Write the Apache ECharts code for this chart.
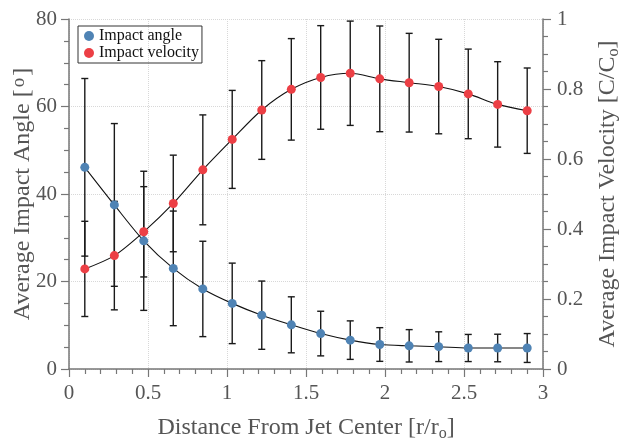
<!DOCTYPE html>
<html>
<head>
<meta charset="utf-8">
<script src="https://cdn.jsdelivr.net/npm/echarts@6/dist/echarts.min.js"></script>
<style>
html, body { margin: 0; padding: 0; background: #fff; }
#main { width: 619px; height: 440px; }
</style>
</head>
<body>
<div id="main"></div>
<script>
// distance from jet center r/ro
var distance = [0.1, 0.287, 0.473, 0.66, 0.847, 1.033, 1.22, 1.407, 1.593, 1.78, 1.967, 2.153, 2.34, 2.527, 2.713, 2.9];
// impact angle (deg) and its spread
var angleMean = [46.1, 37.5, 29.3, 23.0, 18.3, 15.0, 12.3, 10.1, 8.1, 6.6, 5.6, 5.3, 5.1, 4.8, 4.8, 4.8];
var angleErr = [20.3, 18.6, 15.9, 13.1, 10.9, 9.2, 7.8, 6.4, 5.1, 4.4, 3.85, 3.7, 3.4, 3.1, 3.15, 3.3];
// impact velocity C/Co and its spread
var velMean = [0.286, 0.324, 0.392, 0.473, 0.569, 0.656, 0.740, 0.799, 0.833, 0.845, 0.829, 0.818, 0.807, 0.786, 0.756, 0.738];
var velErr = [0.136, 0.155, 0.129, 0.138, 0.157, 0.140, 0.141, 0.145, 0.148, 0.149, 0.151, 0.141, 0.135, 0.128, 0.122, 0.122];

var xTicks = [0, 0.5, 1, 1.5, 2, 2.5, 3];
var angleTicks = [0, 20, 40, 60, 80];
var velTicks = [0, 0.2, 0.4, 0.6, 0.8, 1];

var serif = '"Liberation Serif", "DejaVu Serif", serif';
var axisGray = '#777';
var labelGray = '#555';

function pairs(xv, yv) {
	return xv.map(function(x, i) { return [x, yv[i]]; });
}
function bars(xv, m, e) {
	return xv.map(function(x, i) { return [x, m[i] - e[i], m[i] + e[i]]; });
}

var errorBar = function(params, api) {
	var x = api.value(0);
	var lo = api.coord([x, api.value(1)]);
	var hi = api.coord([x, api.value(2)]);
	var w = 3.5;
	var st = { stroke: '#1a1a1a', lineWidth: 1.4 };
	return {
		type: 'group',
		children: [
			{ type: 'line', shape: { x1: lo[0], y1: lo[1], x2: hi[0], y2: hi[1] }, style: st },
			{ type: 'line', shape: { x1: lo[0] - w, y1: lo[1], x2: lo[0] + w, y2: lo[1] }, style: st },
			{ type: 'line', shape: { x1: hi[0] - w, y1: hi[1], x2: hi[0] + w, y2: hi[1] }, style: st }
		]
	};
};

var option = {
	animation: false,
	backgroundColor: '#fff',
	grid: { left: 69, right: 76, top: 19, bottom: 71, outerBoundsMode: 'none', containLabel: false },
	legend: {
		left: 78,
		top: 26,
		orient: 'vertical',
		itemGap: 1,
		padding: [2, 3, 2, 6],
		borderColor: '#333',
		borderWidth: 1,
		itemWidth: 10,
		itemHeight: 10,
		textStyle: { fontFamily: serif, fontSize: 16, color: '#111' },
		data: [
			{ name: 'Impact angle', icon: 'circle' },
			{ name: 'Impact velocity', icon: 'circle' }
		]
	},
	xAxis: {
		type: 'value',
		min: 0,
		max: 3,
		interval: 0.5,
		name: 'Distance From Jet Center [r/r{sub|o}]',
		nameLocation: 'middle',
		nameGap: 45,
		nameMoveOverlap: false,
		nameTextStyle: {
			fontFamily: serif, fontSize: 24, color: labelGray, verticalAlign: 'top',
			rich: { sub: { fontFamily: serif, fontSize: 16, color: labelGray, verticalAlign: 'top', padding: [12, 0, 0, 0] } }
		},
		axisLine: { lineStyle: { color: axisGray, width: 1.5 } },
		axisTick: { length: 8, lineStyle: { color: axisGray, width: 1.2 } },
		minorTick: { show: true, splitNumber: 5, length: 5, lineStyle: { color: axisGray, width: 1.2 } },
		splitLine: { show: true, lineStyle: { color: '#d8d8d8', type: 'dotted' } },
		axisLabel: {
			margin: 14, fontFamily: serif, fontSize: 21, color: labelGray,
			formatter: function(v) { return xTicks.indexOf(v) >= 0 ? String(v) : ''; }
		}
	},
	yAxis: [{
		type: 'value',
		min: angleTicks[0],
		max: angleTicks[angleTicks.length - 1],
		interval: 20,
		name: 'Average Impact Angle [{sup|o}]',
		nameLocation: 'middle',
		nameGap: 34,
		nameRotate: 90,
		nameMoveOverlap: false,
		nameTextStyle: {
			fontFamily: serif, fontSize: 24, color: labelGray, verticalAlign: 'bottom',
			rich: { sup: { fontFamily: serif, fontSize: 19, color: labelGray, padding: [0, 2, 6, 2] } }
		},
		axisLine: { show: true, lineStyle: { color: axisGray, width: 1.5 } },
		axisTick: { show: true, length: 8, lineStyle: { color: axisGray, width: 1.2 } },
		minorTick: { show: true, splitNumber: 4, length: 5, lineStyle: { color: axisGray, width: 1.2 } },
		splitLine: { show: true, lineStyle: { color: '#d8d8d8', type: 'dotted' } },
		axisLabel: { margin: 12, fontFamily: serif, fontSize: 21, color: labelGray }
	}, {
		type: 'value',
		min: velTicks[0],
		max: velTicks[velTicks.length - 1],
		interval: 0.2,
		name: 'Average Impact Velocity [C/C{sub|o}]',
		nameLocation: 'middle',
		nameGap: 51,
		nameRotate: 90,
		nameMoveOverlap: false,
		nameTextStyle: {
			fontFamily: serif, fontSize: 24, color: labelGray, verticalAlign: 'top',
			rich: { sub: { fontFamily: serif, fontSize: 16, color: labelGray, verticalAlign: 'top', padding: [12, 0, 0, 0] } }
		},
		axisLine: { show: true, lineStyle: { color: axisGray, width: 1.5 } },
		axisTick: { show: true, length: 8, lineStyle: { color: axisGray, width: 1.2 } },
		minorTick: { show: true, splitNumber: 4, length: 5, lineStyle: { color: axisGray, width: 1.2 } },
		splitLine: { show: false },
		axisLabel: {
			margin: 14, fontFamily: serif, fontSize: 21, color: labelGray,
			formatter: function(v) { return String(Math.round(v * 10) / 10); }
		}
	}],
	series: [{
		type: 'custom',
		name: 'angleErr',
		yAxisIndex: 0,
		renderItem: errorBar,
		encode: { x: 0, y: [1, 2] },
		data: bars(distance, angleMean, angleErr),
		z: 1
	}, {
		type: 'custom',
		name: 'velErr',
		yAxisIndex: 1,
		renderItem: errorBar,
		encode: { x: 0, y: [1, 2] },
		data: bars(distance, velMean, velErr),
		z: 1
	}, {
		type: 'line',
		name: 'Impact angle',
		yAxisIndex: 0,
		smooth: 0.3,
		symbol: 'circle',
		symbolSize: 9,
		itemStyle: { color: '#4f83b4' },
		lineStyle: { color: '#111', width: 1.1 },
		data: pairs(distance, angleMean),
		z: 3
	}, {
		type: 'line',
		name: 'Impact velocity',
		yAxisIndex: 1,
		smooth: 0.3,
		symbol: 'circle',
		symbolSize: 9,
		itemStyle: { color: '#ec3f45' },
		lineStyle: { color: '#111', width: 1.1 },
		data: pairs(distance, velMean),
		z: 3
	}]
};

var chart = echarts.init(document.getElementById('main'));
chart.setOption(option);
</script>
</body>
</html>
